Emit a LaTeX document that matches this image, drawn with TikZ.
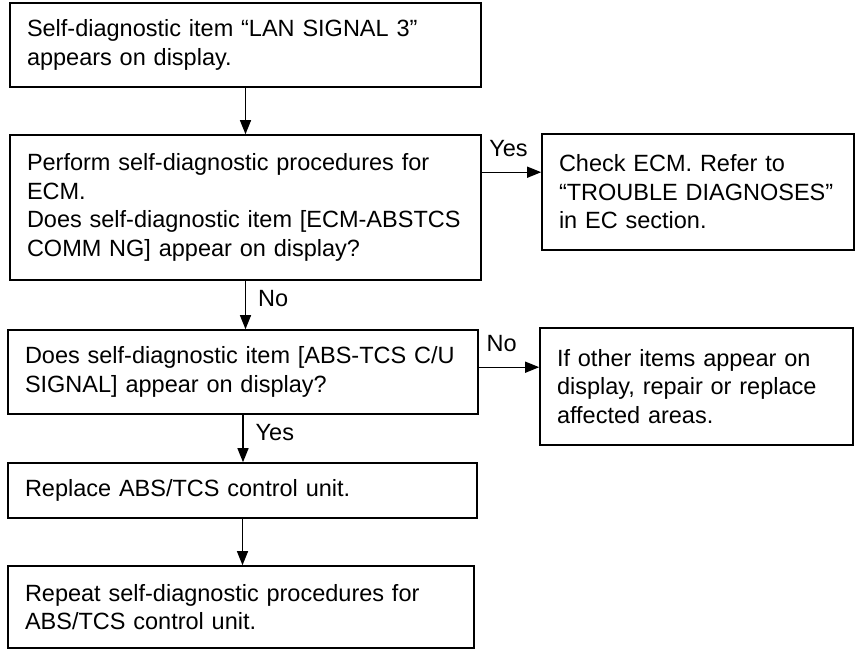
\documentclass[tikz,border=0pt]{standalone}
\usepackage{fontspec}
\setmainfont{Liberation Sans}
\usetikzlibrary{arrows.meta}
\begin{document}
\begin{tikzpicture}[x=1pt,y=-1pt,
  box/.style={draw, line width=1.6pt, inner xsep=17pt, inner ysep=0pt, align=left, anchor=center,
    font=\fontsize{23.5}{28.5}\selectfont},
  arr/.style={line width=1.3pt, -{Triangle[length=14pt,width=11pt]}},
  lbl/.style={inner sep=0pt, font=\fontsize{23.5}{28.5}\selectfont}]
\useasboundingbox (0,0) rectangle (858,650);

\node[box, minimum width=471pt, minimum height=84pt, text width=437pt] (b1) at (245.5,45)
  {Self-diagnostic item “LAN SIGNAL 3”\\appears on display.};
\node[box, minimum width=471pt, minimum height=145pt, text width=437pt] (b2) at (245.5,207.5)
  {Perform self-diagnostic procedures for\\ECM.\\Does self-diagnostic item [ECM-ABSTCS\\COMM NG] appear on display?};
\node[box, minimum width=312pt, minimum height=116pt, text width=278pt] (b3) at (698,192)
  {Check ECM. Refer to\\“TROUBLE DIAGNOSES”\\in EC section.};
\node[box, minimum width=470pt, minimum height=84pt, text width=436pt] (b4) at (243,372)
  {Does self-diagnostic item [ABS-TCS C/U\\SIGNAL] appear on display?};
\node[box, minimum width=313pt, minimum height=117pt, text width=279pt] (b5) at (696.5,386.5)
  {If other items appear on\\display, repair or replace\\affected areas.};
\node[box, minimum width=469pt, minimum height=55pt, text width=435pt] (b6) at (242.5,490.5)
  {Replace ABS/TCS control unit.};
\node[box, minimum width=466pt, minimum height=82pt, text width=432pt] (b7) at (241,607)
  {Repeat self-diagnostic procedures for\\ABS/TCS control unit.};

\coordinate (y1) at ([yshift=-38pt]b2.north east);
\coordinate (n1) at ([yshift=-38pt]b4.north east);

\draw[arr] (b1.south) -- (b1.south |- b2.north);
\draw[arr] (b2.south) -- (b2.south |- b4.north)
  node[lbl, pos=0.36, anchor=west, xshift=12pt] (lno1) {No};
\draw[arr] (b4.south) -- (b4.south |- b6.north)
  node[lbl, pos=0.37, anchor=west, xshift=12pt] (lyes2) {Yes};
\draw[arr] (b6.south) -- (b6.south |- b7.north);
\draw[arr] (y1) -- (y1 -| b3.west)
  node[lbl, pos=0.45, anchor=south, yshift=15pt] (lyes1) {Yes};
\draw[arr] (n1) -- (n1 -| b5.west)
  node[lbl, pos=0.38, anchor=south, yshift=15pt] (lno2) {No};
\end{tikzpicture}
\end{document}
